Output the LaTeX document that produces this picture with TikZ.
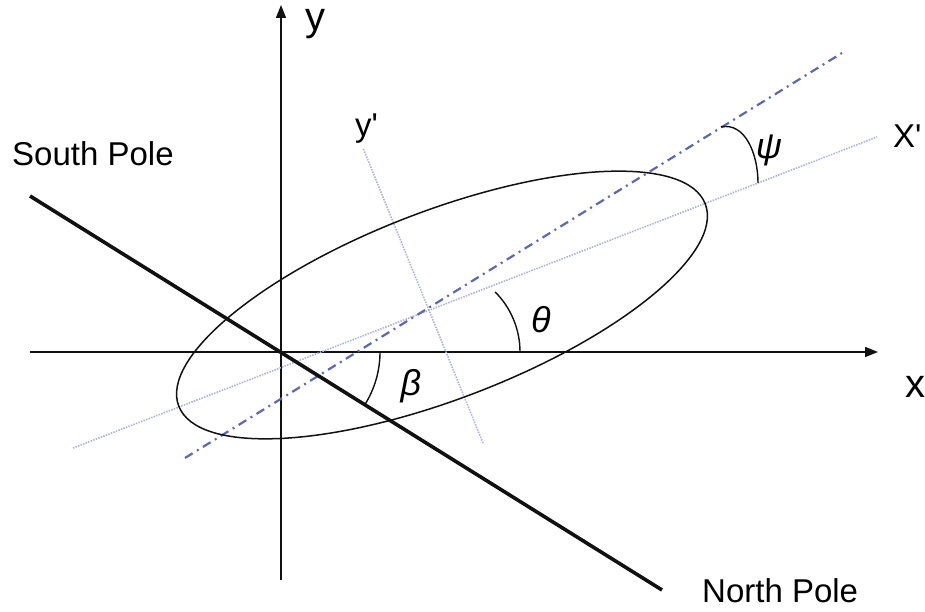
\documentclass[tikz,border=0pt]{standalone}
\usepackage{fontspec}
\setmainfont{Liberation Sans}[Ligatures=TeXOff]
\usetikzlibrary{arrows.meta,positioning,calc}
\definecolor{Ink}{HTML}{111111}
\definecolor{SpinBlue}{HTML}{5E68AE}
\definecolor{Haze}{HTML}{AEB2D8}
\tikzset{
  >={Triangle[length=13pt,width=10pt]},
  axis/.style={->,line width=1.6pt,draw=Ink},
  pole/.style={line width=3.6pt,draw=Ink},
  orbit/.style={line width=1.5pt,draw=Ink},
  frameline/.style={line width=1.6pt,draw=Haze,dash pattern=on 1.5pt off 1.2pt},
  spinline/.style={line width=2.2pt,draw=SpinBlue,dash pattern=on 9pt off 5pt on 2pt off 5pt},
  anglearc/.style={line width=1.4pt,draw=Ink},
  lab/.style={font=\fontsize{33}{40}\selectfont,inner sep=0pt},
  axlab/.style={font=\fontsize{40}{48}\selectfont,inner sep=0pt},
  greek/.style={font=\fontsize{36}{42}\selectfont\itshape,inner sep=0pt}
}
\begin{document}
\begin{tikzpicture}[x=1pt,y=1pt]
        \useasboundingbox (0,0) rectangle (925,612);
        % axes
        \coordinate (O) at (281,260);
        \coordinate (xl) at (30,260); \coordinate (xr) at (878,260);
        \coordinate (ylo) at (281,32); \coordinate (yhi) at (281,607);
        \draw[axis] (xl)--(xr);
        \draw[axis] (ylo)--(yhi);
        % rotated frame and spin axis
        \coordinate (Xa) at (73,164); \coordinate (Xb) at (877,475);
        \coordinate (Ya) at (483,169); \coordinate (Yb) at (363,464);
        \coordinate (Sa) at (185,154); \coordinate (Sb) at (842,559);
        \draw[frameline] (Xa)--(Xb);
        \draw[frameline] (Ya)--(Yb);
        \draw[spinline] (Sa)--(Sb);
        % orbit
        \coordinate (C) at (442,307);
        \draw[orbit,rotate around={21:(C)}] (C) ellipse [x radius=282,y radius=94];
        % pole line
        \coordinate (SP) at (30,416); \coordinate (NP) at (662,22);
        \draw[pole] (SP)--(NP);
        % angle marks
        \draw[anglearc] ($(O)+(99,0)$) arc[start angle=0,end angle=-32,radius=99];
        \coordinate (tq) at (520,260);
        \draw[anglearc] (tq) arc[start angle=0,end angle=45,radius=85];
        \coordinate (pa) at (721,485); \coordinate (pb) at (758,429);
        \draw[anglearc] (pa) .. controls (745,490) and (758,458) .. (pb);
        % labels
        \node[axlab,anchor=base west] (ylab) at (305,581) {y};
        \node[axlab,anchor=base west] (xlab) at (905,214) {x};
        \node[lab,anchor=base west] (south) at (12,446) {South Pole};
        \node[lab,anchor=base west] (north) at (702,9) {North Pole};
        \node[lab,anchor=base west] (yplab) at (355,475) {y'};
        \node[lab,anchor=base west] (Xplab) at (893,464) {X'};
        \node[greek] (theta) at (541,292) {θ};
        \node[greek] (beta) at (411,226) {β};
        \node[greek] (psi) at (769,462) {ψ};
\end{tikzpicture}
\end{document}
